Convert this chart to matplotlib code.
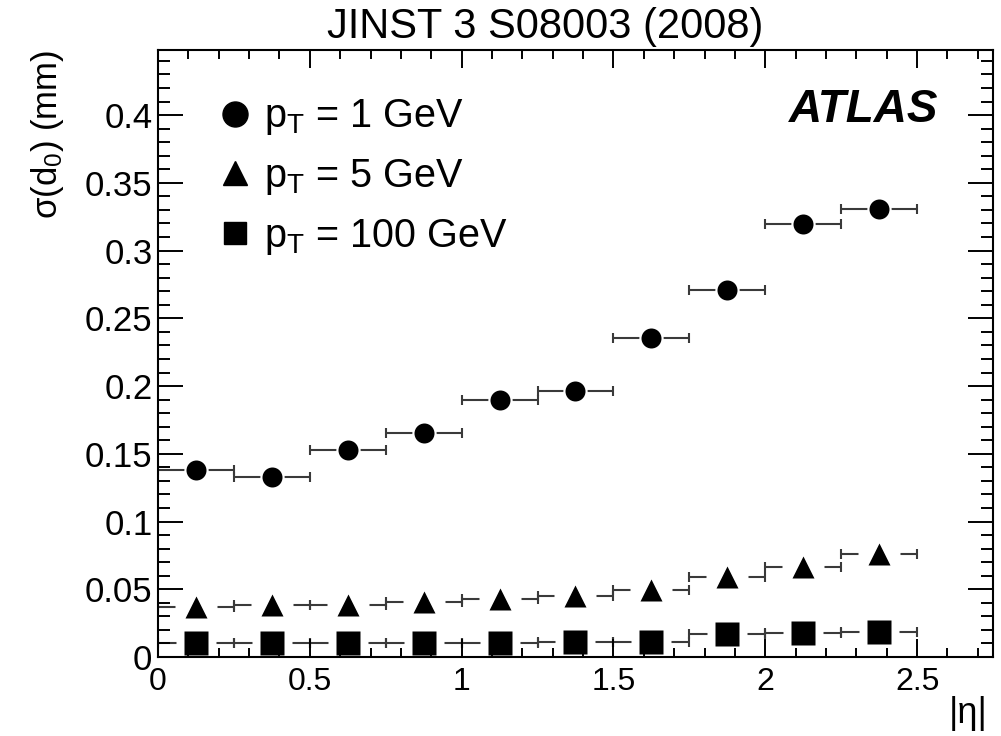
#!/usr/bin/env python3
"""
plot.py
-------
Transverse impact parameter resolution sigma(d0) versus |eta| for single
tracks at three transverse momenta, drawn in the ROOT/ATLAS style.
"""

import matplotlib
matplotlib.use('Agg')
import matplotlib.pyplot as plt
from matplotlib.lines import Line2D
from matplotlib.ticker import MultipleLocator, FuncFormatter

# |eta| bin centres and half bin width
eta_centres = [0.125, 0.375, 0.625, 0.875, 1.125, 1.375, 1.625, 1.875, 2.125, 2.375]
eta_halfwidth = 0.125

# sigma(d0) in mm
sigma_pt1   = [0.1384, 0.1330, 0.1527, 0.1650, 0.1896, 0.1964, 0.2358, 0.2707, 0.3194, 0.3304]
sigma_pt5   = [0.0366, 0.0383, 0.0383, 0.0403, 0.0428, 0.0452, 0.0494, 0.0592, 0.0661, 0.0757]
sigma_pt100 = [0.0101, 0.0101, 0.0106, 0.0106, 0.0106, 0.0108, 0.0113, 0.0167, 0.0179, 0.0184]

series_labels = [
    r'p$_{\mathregular{T}}$ = 1 GeV',
    r'p$_{\mathregular{T}}$ = 5 GeV',
    r'p$_{\mathregular{T}}$ = 100 GeV',
]

title_text = 'JINST 3 S08003 (2008)'
x_title = '|η|'
y_title = r'σ(d$_{\mathregular{0}}$) (mm)'

plt.rcParams['font.family'] = ['Liberation Sans', 'DejaVu Sans']
plt.rcParams['mathtext.fontset'] = 'custom'
plt.rcParams['mathtext.rm'] = 'Liberation Sans'
plt.rcParams['mathtext.it'] = 'Liberation Sans:italic'
plt.rcParams['mathtext.bf'] = 'Liberation Sans:bold'

ERR_COLOR = '#3a3a3a'


def fmt_tick(v, _pos):
    return f'{round(v, 4):g}'


def main() -> None:
    fig = plt.figure(figsize=(10.01, 7.36), dpi=100)
    ax = fig.add_axes([0.1578, 0.1073, 0.8342, 0.8247])

    # (values, marker, black size, gap marker, gap size)
    styles = [
        (sigma_pt1,   'o', 14.4, 'o', 17.5),
        (sigma_pt5,   '^', 16.0, 's', 30.0),
        (sigma_pt100, 's', 16.6, 's', 28.8),
    ]
    for values, marker, ms, gap_marker, gap_ms in styles:
        ax.errorbar(eta_centres, values, xerr=eta_halfwidth, fmt='none',
                    ecolor=ERR_COLOR, elinewidth=1.5, capsize=3.6,
                    capthick=1.5, zorder=2.0)
        # white blank behind marker, ROOT leaves a gap around the marker
        ax.plot(eta_centres, values, ls='none', marker=gap_marker, ms=gap_ms,
                mfc='white', mec='none', zorder=2.1)
        ax.plot(eta_centres, values, ls='none', marker=marker, ms=ms,
                mfc='black', mec='none', zorder=2.2)

    ax.set_xlim(0, 2.75)
    ax.set_ylim(0, 0.448)
    ax.set_axisbelow(False)

    ax.xaxis.set_major_locator(MultipleLocator(0.5))
    ax.xaxis.set_minor_locator(MultipleLocator(0.1))
    ax.yaxis.set_major_locator(MultipleLocator(0.05))
    ax.yaxis.set_minor_locator(MultipleLocator(0.01))
    ax.xaxis.set_major_formatter(FuncFormatter(fmt_tick))
    ax.yaxis.set_major_formatter(FuncFormatter(fmt_tick))

    ax.tick_params(which='both', direction='in', top=True, right=True,
                   width=1.4, color='black')
    ax.tick_params(axis='x', which='major', length=13, labelsize=23, pad=7.5)
    ax.tick_params(axis='x', which='minor', length=6.5)
    ax.tick_params(axis='y', which='major', length=18, labelsize=25, pad=4)
    ax.tick_params(axis='y', which='minor', length=8.6)
    for sp in ax.spines.values():
        sp.set_linewidth(1.5)

    ax.set_ylabel(y_title, loc='top', fontsize=25)
    ax.yaxis.set_label_coords(-0.11, 1.0)
    ax.set_xlabel(x_title, loc='right', fontsize=26)
    ax.xaxis.set_label_coords(0.994, -0.065)

    handles = [
        Line2D([], [], ls='none', marker='o', ms=18, color='black'),
        Line2D([], [], ls='none', marker='^', ms=17, color='black'),
        Line2D([], [], ls='none', marker='s', ms=16.5, color='black'),
    ]
    ax.legend(handles, series_labels, loc='upper left',
              bbox_to_anchor=(0.0743, 0.922), frameon=False, fontsize=28.5,
              handlelength=0.76, handletextpad=0.36, labelspacing=0.5,
              borderpad=0, borderaxespad=0)

    ax.text(0.935, 0.881, 'ATLAS', transform=ax.transAxes, ha='right',
            va='baseline', fontsize=33, fontweight='bold', fontstyle='italic')

    fig.text(0.545, 0.948, title_text, ha='center', va='baseline', fontsize=30)

    fig.savefig('out.png', dpi=100)
    plt.close(fig)


if __name__ == '__main__':
    main()
